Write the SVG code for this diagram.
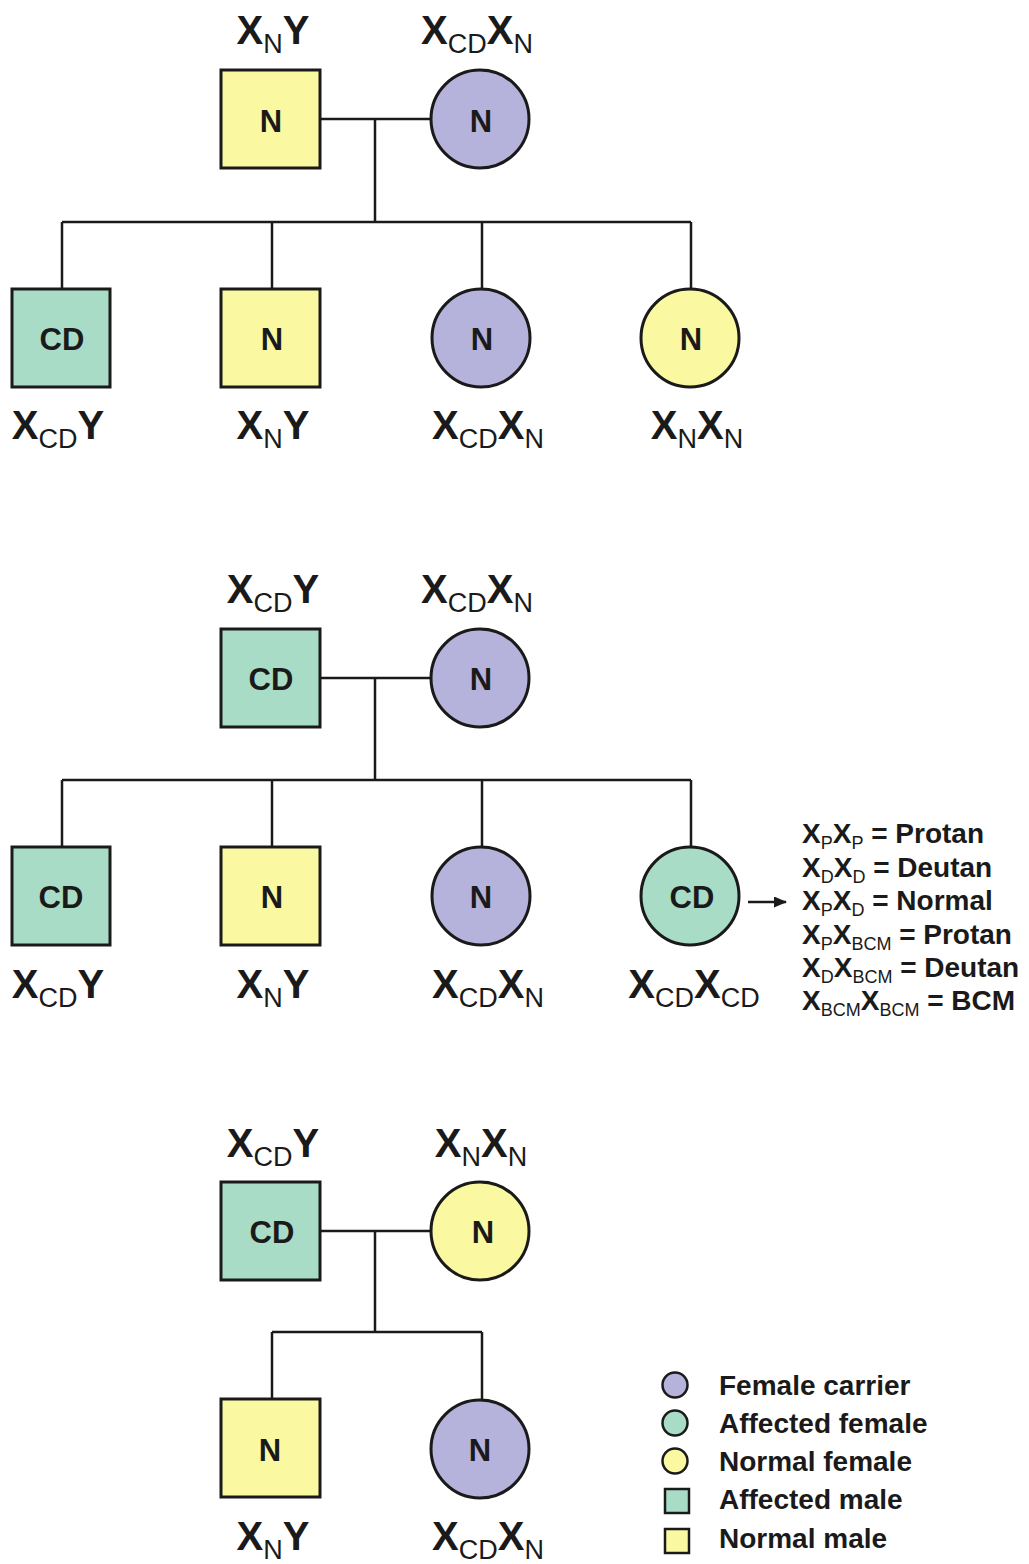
<svg xmlns="http://www.w3.org/2000/svg" width="1029" height="1564" viewBox="0 0 1029 1564">
<style>
.y{fill:#FBF8A2;stroke:#1a1a1a;stroke-width:3}
.p{fill:#B5B3DB;stroke:#1a1a1a;stroke-width:3}
.g{fill:#A9DCC7;stroke:#1a1a1a;stroke-width:3}
.ln{stroke:#1a1a1a;stroke-width:2.5;fill:none}
.nl{font-family:"Liberation Sans",Arial,sans-serif;font-weight:bold;font-size:31px;fill:#1a1a1a;text-anchor:middle}
.gt{font-family:"Liberation Sans",Arial,sans-serif;font-weight:bold;font-size:40px;fill:#1a1a1a;text-anchor:middle}
.gt .s{font-weight:normal;font-size:27px}
.lg{font-family:"Liberation Sans",Arial,sans-serif;font-weight:bold;font-size:28px;fill:#1a1a1a}
.lg .s{font-weight:normal;font-size:18px}
.key{font-family:"Liberation Sans",Arial,sans-serif;font-weight:bold;font-size:28px;fill:#1a1a1a}
.ls{stroke-width:2.5}
</style>
<defs>
<marker id="ah" markerWidth="13" markerHeight="11" refX="12" refY="5.5" orient="auto" markerUnits="userSpaceOnUse">
<path d="M0,0 L13,5.5 L0,11 Z" fill="#1a1a1a"/>
</marker>
</defs>
<g id="connectors">
<path class="ln" d="M320,119 H431 M375,119 V222 M62,222 H691 M62,222 V289 M272,222 V289 M482,222 V289 M691,222 V289"/>
<path class="ln" d="M320,678 H431 M375,678 V780 M62,780 H691 M62,780 V847 M272,780 V847 M482,780 V847 M691,780 V847"/>
<path class="ln" d="M320,1231 H431 M375,1231 V1332 M272,1332 H482 M272,1332 V1399 M482,1332 V1400"/>
<line class="ln" x1="748" y1="902" x2="786" y2="902" marker-end="url(#ah)"/>
</g>
<g id="p1-father"><rect class="y" x="221" y="70" width="99" height="98"/><text class="nl" x="271" y="132">N</text>
<text class="gt" x="273" y="44">X<tspan class="s" dy="9">N</tspan><tspan dy="-9">Y</tspan></text></g>
<g id="p1-mother"><circle class="p" cx="480" cy="119" r="49"/><text class="nl" x="481" y="132">N</text>
<text class="gt" x="477" y="44">X<tspan class="s" dy="9">CD</tspan><tspan dy="-9">X</tspan><tspan class="s" dy="9">N</tspan></text></g>
<g id="p1-c1"><rect class="g" x="12" y="289" width="98" height="98"/><text class="nl" x="62" y="350">CD</text>
<text class="gt" x="58" y="439">X<tspan class="s" dy="9">CD</tspan><tspan dy="-9">Y</tspan></text></g>
<g id="p1-c2"><rect class="y" x="221" y="289" width="99" height="98"/><text class="nl" x="272" y="350">N</text>
<text class="gt" x="273" y="439">X<tspan class="s" dy="9">N</tspan><tspan dy="-9">Y</tspan></text></g>
<g id="p1-c3"><circle class="p" cx="481" cy="338" r="49"/><text class="nl" x="482" y="350">N</text>
<text class="gt" x="488" y="439">X<tspan class="s" dy="9">CD</tspan><tspan dy="-9">X</tspan><tspan class="s" dy="9">N</tspan></text></g>
<g id="p1-c4"><circle class="y" cx="690" cy="338" r="49"/><text class="nl" x="691" y="350">N</text>
<text class="gt" x="697" y="439">X<tspan class="s" dy="9">N</tspan><tspan dy="-9">X</tspan><tspan class="s" dy="9">N</tspan></text></g>

<g id="p2-father"><rect class="g" x="221" y="629" width="99" height="98"/><text class="nl" x="271" y="690">CD</text>
<text class="gt" x="273" y="603">X<tspan class="s" dy="9">CD</tspan><tspan dy="-9">Y</tspan></text></g>
<g id="p2-mother"><circle class="p" cx="480" cy="678" r="49"/><text class="nl" x="481" y="690">N</text>
<text class="gt" x="477" y="603">X<tspan class="s" dy="9">CD</tspan><tspan dy="-9">X</tspan><tspan class="s" dy="9">N</tspan></text></g>
<g id="p2-c1"><rect class="g" x="12" y="847" width="98" height="98"/><text class="nl" x="61" y="908">CD</text>
<text class="gt" x="58" y="998">X<tspan class="s" dy="9">CD</tspan><tspan dy="-9">Y</tspan></text></g>
<g id="p2-c2"><rect class="y" x="221" y="847" width="99" height="98"/><text class="nl" x="272" y="908">N</text>
<text class="gt" x="273" y="998">X<tspan class="s" dy="9">N</tspan><tspan dy="-9">Y</tspan></text></g>
<g id="p2-c3"><circle class="p" cx="481" cy="896" r="49"/><text class="nl" x="481" y="908">N</text>
<text class="gt" x="488" y="998">X<tspan class="s" dy="9">CD</tspan><tspan dy="-9">X</tspan><tspan class="s" dy="9">N</tspan></text></g>
<g id="p2-c4"><circle class="g" cx="690" cy="896" r="49"/><text class="nl" x="692" y="908">CD</text>
<text class="gt" x="694" y="998">X<tspan class="s" dy="9">CD</tspan><tspan dy="-9">X</tspan><tspan class="s" dy="9">CD</tspan></text></g>

<g id="genotype-key">
<text class="lg" x="802" y="843">X<tspan class="s" dy="6">P</tspan><tspan dy="-6">X</tspan><tspan class="s" dy="6">P</tspan><tspan dy="-6"> = Protan</tspan></text>
<text class="lg" x="802" y="877">X<tspan class="s" dy="6">D</tspan><tspan dy="-6">X</tspan><tspan class="s" dy="6">D</tspan><tspan dy="-6"> = Deutan</tspan></text>
<text class="lg" x="802" y="910">X<tspan class="s" dy="6">P</tspan><tspan dy="-6">X</tspan><tspan class="s" dy="6">D</tspan><tspan dy="-6"> = Normal</tspan></text>
<text class="lg" x="802" y="944">X<tspan class="s" dy="6">P</tspan><tspan dy="-6">X</tspan><tspan class="s" dy="6">BCM</tspan><tspan dy="-6"> = Protan</tspan></text>
<text class="lg" x="802" y="977">X<tspan class="s" dy="6">D</tspan><tspan dy="-6">X</tspan><tspan class="s" dy="6">BCM</tspan><tspan dy="-6"> = Deutan</tspan></text>
<text class="lg" x="802" y="1010">X<tspan class="s" dy="6">BCM</tspan><tspan dy="-6">X</tspan><tspan class="s" dy="6">BCM</tspan><tspan dy="-6"> = BCM</tspan></text>
</g>

<g id="p3-father"><rect class="g" x="221" y="1182" width="99" height="98"/><text class="nl" x="272" y="1243">CD</text>
<text class="gt" x="273" y="1157">X<tspan class="s" dy="9">CD</tspan><tspan dy="-9">Y</tspan></text></g>
<g id="p3-mother"><circle class="y" cx="480" cy="1231" r="49"/><text class="nl" x="483" y="1243">N</text>
<text class="gt" x="481" y="1157">X<tspan class="s" dy="9">N</tspan><tspan dy="-9">X</tspan><tspan class="s" dy="9">N</tspan></text></g>
<g id="p3-c1"><rect class="y" x="221" y="1399" width="99" height="98"/><text class="nl" x="270" y="1461">N</text>
<text class="gt" x="273" y="1550">X<tspan class="s" dy="9">N</tspan><tspan dy="-9">Y</tspan></text></g>
<g id="p3-c2"><circle class="p" cx="480" cy="1449" r="49"/><text class="nl" x="480" y="1461">N</text>
<text class="gt" x="488" y="1550">X<tspan class="s" dy="9">CD</tspan><tspan dy="-9">X</tspan><tspan class="s" dy="9">N</tspan></text></g>

<g id="legend">
<circle class="p ls" cx="675" cy="1385" r="12.5"/><text class="key" x="719" y="1395">Female carrier</text>
<circle class="g ls" cx="675" cy="1423" r="12.5"/><text class="key" x="719" y="1433">Affected female</text>
<circle class="y ls" cx="675" cy="1461" r="12.5"/><text class="key" x="719" y="1471">Normal female</text>
<rect class="g ls" x="665" y="1489" width="24" height="24"/><text class="key" x="719" y="1509">Affected male</text>
<rect class="y ls" x="665" y="1529" width="24" height="24"/><text class="key" x="719" y="1548">Normal male</text>
</g>
</svg>
